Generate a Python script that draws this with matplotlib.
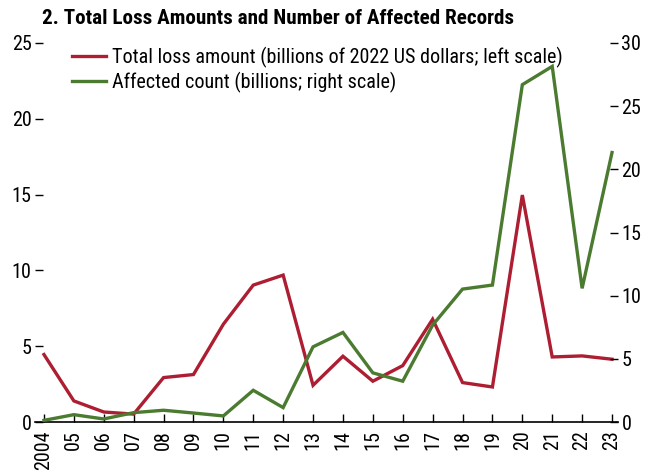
import numpy as np
import matplotlib.pyplot as plt

plt.rcParams['font.family'] = ['Roboto Condensed', 'Liberation Sans', 'DejaVu Sans']

years = ["2004", "05", "06", "07", "08", "09", "10", "11", "12", "13",
         "14", "15", "16", "17", "18", "19", "20", "21", "22", "23"]
loss_amount = [4.45, 1.39, 0.66, 0.52, 2.93, 3.13, 6.45, 9.03, 9.69, 2.42,
               4.34, 2.69, 3.72, 6.78, 2.6, 2.31, 14.97, 4.29, 4.36, 4.14]
affected_count = [0.13, 0.58, 0.24, 0.74, 0.93, 0.71, 0.48, 2.51, 1.14, 5.95,
                  7.09, 3.89, 3.23, 7.67, 10.52, 10.84, 26.7, 28.15, 10.58, 21.33]

red = '#AD1E32'
green = '#4B7B30'

fig = plt.figure(figsize=(6.58, 4.76), dpi=100)
ax1 = fig.add_axes([35 / 658, 54 / 476, 583 / 658, 379 / 476])
ax2 = ax1.twinx()

x = np.arange(len(years))
l1, = ax1.plot(x, loss_amount, color=red, lw=2.4, solid_joinstyle='miter',
               label='Total loss amount (billions of 2022 US dollars; left scale)')
l2, = ax2.plot(x, affected_count, color=green, lw=2.4, solid_joinstyle='miter',
               label='Affected count (billions; right scale)')

ax1.set_xlim(-0.3, 19.2)
ax1.set_ylim(0, 25)
ax2.set_ylim(0, 30)
ax1.set_yticks([0, 5, 10, 15, 20, 25])
ax2.set_yticks([0, 5, 10, 15, 20, 25, 30])
ax1.set_xticks(x)
ax1.set_xticklabels(years, rotation=90)

for a in (ax1, ax2):
    for s in ('top', 'left', 'right'):
        a.spines[s].set_visible(False)
    a.tick_params(axis='y', direction='in', length=6, width=1, labelsize=14.5, pad=2.5)
ax2.spines['bottom'].set_visible(False)
ax1.spines['bottom'].set_linewidth(1.2)
ax1.tick_params(axis='x', direction='in', length=6, width=1, labelsize=14.5, pad=6)

ax1.legend(handles=[l1, l2], loc='upper left', bbox_to_anchor=(0.05, 1.012),
           frameon=False, fontsize=14.5, handlelength=1.7, handletextpad=0.3,
           labelspacing=0.2, borderaxespad=0)

fig.text(42 / 658, 1 - 18 / 476, '2. Total Loss Amounts and Number of Affected Records',
         fontsize=15.2, fontweight='bold', ha='left', va='center')

fig.savefig('out.png', dpi=100)
